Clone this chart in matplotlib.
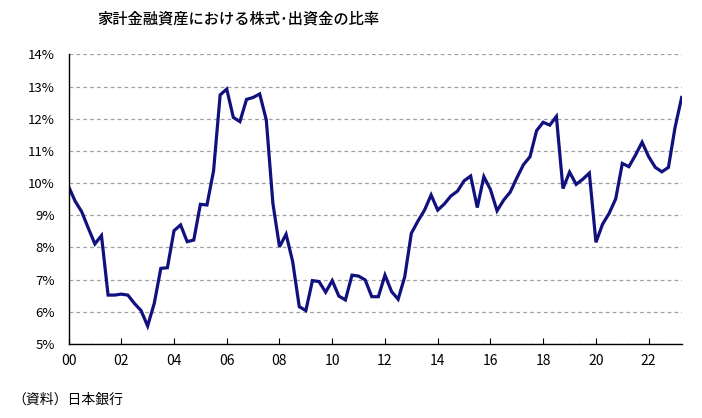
import numpy as np
import matplotlib
matplotlib.use('Agg')
import matplotlib.pyplot as plt
from matplotlib.ticker import FixedLocator, FuncFormatter

plt.rcParams['font.family'] = ['Noto Sans CJK JP', 'DejaVu Sans']

# quarterly share of equities in household financial assets (%), 2000Q1 - 2023Q2
ratio = [
    9.90, 9.44, 9.11, 8.60, 8.11, 8.37, 6.52, 6.52, 6.55, 6.52,
    6.26, 6.04, 5.56, 6.26, 7.35, 7.37, 8.52, 8.70, 8.18, 8.23,
    9.34, 9.32, 10.38, 12.74, 12.92, 12.04, 11.91, 12.60, 12.66, 12.77,
    11.96, 9.37, 8.02, 8.41, 7.56, 6.16, 6.04, 6.97, 6.94, 6.61,
    6.97, 6.49, 6.37, 7.14, 7.11, 6.99, 6.47, 6.47, 7.14, 6.63,
    6.39, 7.09, 8.44, 8.82, 9.16, 9.63, 9.16, 9.35, 9.60, 9.75,
    10.07, 10.22, 9.24, 10.20, 9.80, 9.14, 9.47, 9.72, 10.16, 10.57,
    10.82, 11.63, 11.89, 11.80, 12.07, 9.83, 10.34, 9.96, 10.12, 10.31,
    8.16, 8.72, 9.06, 9.51, 10.61, 10.51, 10.87, 11.27, 10.82, 10.49,
    10.35, 10.49, 11.73, 12.66,
]
year_labels = ['00', '02', '04', '06', '08', '10', '12', '14', '16', '18', '20', '22']
title = '家計金融資産における株式･出資金の比率'
source = '（資料）日本銀行'

x = np.arange(len(ratio))

fig = plt.figure(figsize=(7.02, 4.18), dpi=100)
ax = fig.add_axes([0.0976, 0.177, 0.8734, 0.693])

ax.plot(x, ratio, color='#10107e', lw=2.3, solid_joinstyle='miter')

ax.set_xlim(0, len(ratio) - 1)
ax.set_ylim(5, 14)
ax.xaxis.set_major_locator(FixedLocator(np.arange(len(year_labels)) * 8))
ax.set_xticklabels(year_labels)
ax.yaxis.set_major_locator(FixedLocator(np.arange(5, 15)))
ax.yaxis.set_major_formatter(FuncFormatter(lambda v, p: f'{v:.0f}%'))

ax.grid(axis='y', color='#a0a0a0', ls=(0, (3, 2.5)), lw=0.9)
ax.set_axisbelow(True)
for s in ['top', 'right']:
    ax.spines[s].set_visible(False)
for s in ['left', 'bottom']:
    ax.spines[s].set_linewidth(1.0)

ax.tick_params(axis='x', direction='in', length=4, width=0.8, pad=7, labelsize=10)
ax.tick_params(axis='y', direction='out', length=0, pad=10, labelsize=9.5)

fig.text(0.339, 0.955, title, ha='center', va='center', fontsize=11, weight='medium')
fig.text(0.018, 0.043, source, ha='left', va='center', fontsize=10)

fig.savefig('out.png', dpi=100)
